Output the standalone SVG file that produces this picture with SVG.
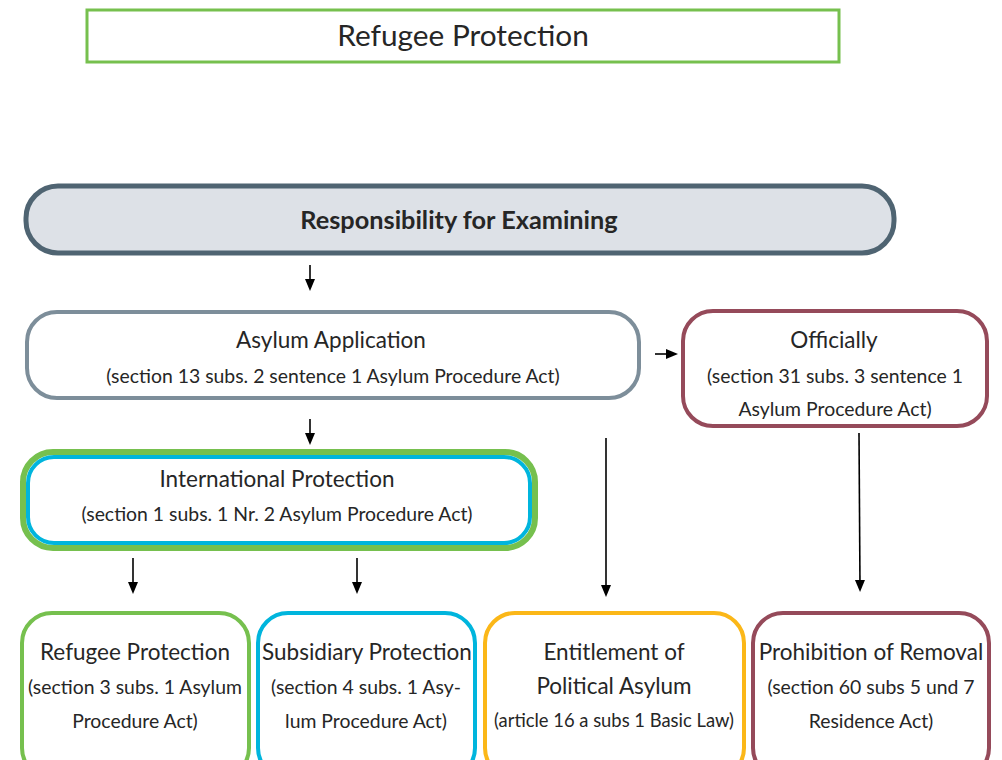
<svg xmlns="http://www.w3.org/2000/svg" width="1002" height="760" viewBox="0 0 1002 760">
<style>
text{font-family:Lato,"Open Sans","Noto Sans",sans-serif;fill:#262626;text-anchor:middle;dominant-baseline:central}
.h{font-size:22.5px}
.s{font-size:19.4px}
.box{fill:#fff;stroke-width:4}
.conn line{stroke:#000;stroke-width:1.6;marker-end:url(#ah)}
</style>
<defs>
<marker id="ah" markerWidth="12" markerHeight="12" refX="6" refY="6" orient="auto" markerUnits="userSpaceOnUse" viewBox="0 0 12 12"><path d="M0,1 L12,6 L0,11 Z" fill="#000"/></marker>
</defs>
<rect width="1002" height="760" fill="#fff"/>
<g id="title">
<rect x="87" y="10" width="752" height="52" fill="#fff" stroke="#76c04e" stroke-width="3"/>
<text x="463" y="34" style="font-size:29.8px">Refugee Protection</text>
</g>
<g id="responsibility">
<rect x="26" y="186" width="868" height="67" rx="32" fill="#dde1e7" stroke="#4f6472" stroke-width="5"/>
<text x="459" y="219" style="font-size:25.3px;font-weight:bold">Responsibility for Examining</text>
</g>
<g id="asylum">
<rect class="box" x="27" y="312" width="612" height="86" rx="30" stroke="#7d8e9a"/>
<text class="h" x="331" y="339">Asylum Application</text>
<text class="s" x="333" y="375">(section 13 subs. 2 sentence 1 Asylum Procedure Act)</text>
</g>
<g id="officially">
<rect class="box" x="683" y="311" width="304" height="115" rx="30" stroke="#954a5a"/>
<text class="h" x="834" y="339">Officially</text>
<text class="s" x="835" y="375">(section 31 subs. 3 sentence 1</text>
<text class="s" x="835" y="408">Asylum Procedure Act)</text>
</g>
<g id="international">
<rect x="23" y="452" width="512" height="96" rx="30" fill="#fff" stroke="#76c04e" stroke-width="6"/>
<rect x="28" y="457" width="502" height="86" rx="26" fill="#fff" stroke="#00b5dd" stroke-width="4"/>
<text class="h" x="277" y="478">International Protection</text>
<text class="s" x="277" y="513">(section 1 subs. 1 Nr. 2 Asylum Procedure Act)</text>
</g>
<g id="refugee">
<rect class="box" x="22" y="613" width="227" height="165" rx="30" stroke="#76c04e"/>
<text class="h" x="135" y="651">Refugee Protection</text>
<text class="s" x="135" y="686">(section 3 subs. 1 Asylum</text>
<text class="s" x="135" y="720">Procedure Act)</text>
</g>
<g id="subsidiary">
<rect class="box" x="258" y="613" width="217" height="165" rx="30" stroke="#00b5dd"/>
<text class="h" x="367" y="651">Subsidiary Protection</text>
<text class="s" x="366" y="686">(section 4 subs. 1 Asy-</text>
<text class="s" x="366" y="720">lum Procedure Act)</text>
</g>
<g id="entitlement">
<rect class="box" x="485" y="613" width="259" height="165" rx="30" stroke="#fbb718"/>
<text class="h" x="614" y="651">Entitlement of</text>
<text class="h" x="614" y="685">Political Asylum</text>
<text class="s" x="614" y="720" style="font-size:18.4px">(article 16 a subs 1 Basic Law)</text>
</g>
<g id="prohibition">
<rect class="box" x="753" y="613" width="236" height="165" rx="30" stroke="#954a5a"/>
<text class="h" x="871" y="651">Prohibition of Removal</text>
<text class="s" x="871" y="686">(section 60 subs 5 und 7</text>
<text class="s" x="871" y="720">Residence Act)</text>
</g>
<g id="connectors" class="conn">
<line x1="310" y1="265" x2="310" y2="285"/>
<line x1="655" y1="354" x2="672" y2="354"/>
<line x1="310" y1="419" x2="310" y2="439"/>
<line x1="133" y1="558" x2="133" y2="588"/>
<line x1="357" y1="558" x2="357" y2="588"/>
<line x1="606" y1="438" x2="606" y2="591"/>
<line x1="859" y1="433" x2="860" y2="586"/>
</g>
</svg>
